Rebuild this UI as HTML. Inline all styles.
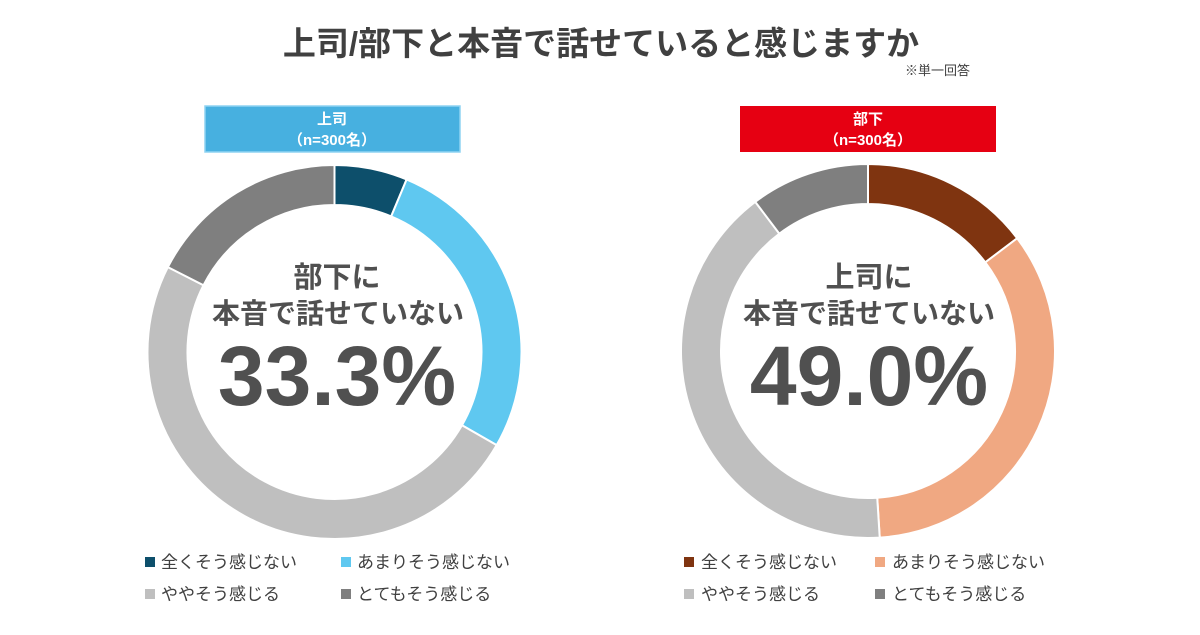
<!DOCTYPE html>
<html><head><meta charset="utf-8"><style>
html,body{margin:0;padding:0;background:#fff;}
svg text{font-family:"Liberation Sans","Noto Sans CJK JP",sans-serif;}
</style></head><body>
<svg width="1200" height="630" viewBox="0 0 1200 630" xmlns="http://www.w3.org/2000/svg">
<rect width="1200" height="630" fill="#fff"/>
<text x="601" y="55" text-anchor="middle" font-size="33" font-weight="bold" fill="#404040">上司/部下と本音で話せていると感じますか</text>
<text x="905" y="75" font-size="13" fill="#404040">※単一回答</text>

<rect x="205" y="106" width="255" height="46" fill="#47b0e0" stroke="#8fd3f2" stroke-width="1.5"/>
<text x="332" y="124" text-anchor="middle" font-size="15" font-weight="bold" fill="#fff">上司</text>
<text x="332" y="145" text-anchor="middle" font-size="15" font-weight="bold" fill="#fff">（n=300名）</text>
<rect x="740" y="106" width="256" height="46" fill="#e60012"/>
<text x="868" y="124" text-anchor="middle" font-size="15" font-weight="bold" fill="#fff">部下</text>
<text x="868" y="145" text-anchor="middle" font-size="15" font-weight="bold" fill="#fff">（n=300名）</text>

<g id="d1" transform="translate(334.5,352)"></g>
<g id="d2" transform="translate(868,351)"></g>

<g fill="#505050" font-weight="bold" text-anchor="middle">
<text x="337" y="287" font-size="29">部下に</text>
<text x="338" y="323" font-size="28">本音で話せていない</text>
<text x="337" y="405" font-size="84">33.3%</text>
<text x="869" y="287" font-size="29">上司に</text>
<text x="869" y="323" font-size="28">本音で話せていない</text>
<text x="869" y="405" font-size="84">49.0%</text>
</g>

<g font-size="17" fill="#404040">
<rect x="145" y="557" width="10" height="10" fill="#0d4f6b"/><text x="161" y="568">全くそう感じない</text>
<rect x="341" y="557" width="10" height="10" fill="#5fc8f0"/><text x="357" y="568">あまりそう感じない</text>
<rect x="145" y="589" width="10" height="10" fill="#bfbfbf"/><text x="161" y="600">ややそう感じる</text>
<rect x="341" y="589" width="10" height="10" fill="#7f7f7f"/><text x="357" y="600">とてもそう感じる</text>
<rect x="684" y="557" width="10" height="10" fill="#7f3410"/><text x="701" y="568">全くそう感じない</text>
<rect x="875" y="557" width="10" height="10" fill="#f0a882"/><text x="892" y="568">あまりそう感じない</text>
<rect x="684" y="589" width="10" height="10" fill="#bfbfbf"/><text x="701" y="600">ややそう感じる</text>
<rect x="875" y="589" width="10" height="10" fill="#7f7f7f"/><text x="892" y="600">とてもそう感じる</text>
</g>
</svg>
<script>
function arc(g,vals,cols,R,r){
 var ns="http://www.w3.org/2000/svg",a=0;
 for(var i=0;i<vals.length;i++){
  var a0=a*2*Math.PI,a1=(a+vals[i])*2*Math.PI;a+=vals[i];
  var p=function(rad,t){return (rad*Math.sin(t)).toFixed(2)+","+(-rad*Math.cos(t)).toFixed(2);};
  var lg=(a1-a0)>Math.PI?1:0;
  var d="M"+p(R,a0)+"A"+R+","+R+" 0 "+lg+" 1 "+p(R,a1)+"L"+p(r,a1)+"A"+r+","+r+" 0 "+lg+" 0 "+p(r,a0)+"Z";
  var e=document.createElementNS(ns,"path");e.setAttribute("d",d);e.setAttribute("fill",cols[i]);
  e.setAttribute("stroke","#fff");e.setAttribute("stroke-width","2");g.appendChild(e);
 }
}
arc(document.getElementById("d1"),[0.063,0.27,0.492,0.175],["#0d4f6b","#5fc8f0","#bfbfbf","#7f7f7f"],187,147);
arc(document.getElementById("d2"),[0.147,0.343,0.407,0.103],["#7f3410","#f0a882","#bfbfbf","#7f7f7f"],187,147);
</script>
</body></html>
